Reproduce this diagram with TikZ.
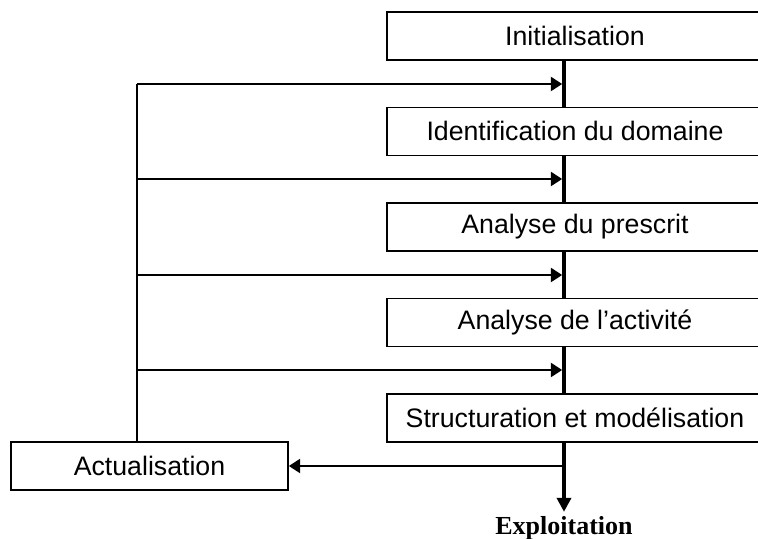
\documentclass[tikz,border=0pt]{standalone}
\usepackage{fontspec}
\setmainfont{Liberation Serif}
\setsansfont{Liberation Sans}
\usepackage{tikz}
\usetikzlibrary{arrows.meta,positioning,calc}
\tikzset{
  stage/.style={rectangle,draw=black,line width=1.2pt,fill=white,minimum width=9.4cm,
    minimum height=1.2cm,align=center,font=\fontsize{19}{22}\selectfont\sffamily},
  upd/.style={rectangle,draw=black,line width=1.2pt,fill=white,minimum width=6.925cm,
    minimum height=1.2cm,align=center,font=\fontsize{19}{22}\selectfont\sffamily},
  arr/.style={-{Triangle[length=8pt,width=10pt]},line width=1.3pt,color=black},
  spine/.style={line width=2.6pt,color=black},
  outlbl/.style={font=\fontsize{18.5}{21}\selectfont\rmfamily\bfseries}
}

\begin{document}
\begin{tikzpicture}
    \useasboundingbox (0,0) rectangle (18.95,13.475);

    % Stages
    \node[stage] (init) at (14.375,12.575) {Initialisation};
    \node[stage] (ident) at (14.375,10.19) {Identification du domaine};
    \node[stage] (presc) at (14.375,7.8) {Analyse du prescrit};
    \node[stage] (activ) at (14.375,5.41) {Analyse de l’activité};
    \node[stage] (model) at (14.375,3.02) {Structuration et modélisation};

    % Update loop
    \node[upd] (actu) at (3.7375,1.825) {Actualisation};
    \node[outlbl] (expl) at (14.1,0.26) {Exploitation};

    % Junctions on the spine
    \coordinate (j1) at (14.1,11.375);
    \coordinate (j2) at (14.1,9.0);
    \coordinate (j3) at (14.1,6.6);
    \coordinate (j4) at (14.1,4.225);
    \coordinate (j5) at (14.1,1.825);
    \coordinate (fb) at (3.425,11.375);

    % Spine
    \draw[spine] (init.south -| j1) -- (ident.north -| j1);
    \draw[spine] (ident.south -| j1) -- (presc.north -| j1);
    \draw[spine] (presc.south -| j1) -- (activ.north -| j1);
    \draw[spine] (activ.south -| j1) -- (model.north -| j1);
    \draw[spine,-{Triangle[length=10pt,width=10pt]}] (model.south -| j1) -- (expl.north -| j1);

    % Feedback
    \draw[arr] (j5) -- (actu.east);
    \draw[line width=1.3pt] (actu.north -| fb) -- (fb);
    \draw[arr,shorten >=1.3pt] (fb) -- (j1);
    \draw[arr,shorten >=1.3pt] (fb |- j2) -- (j2);
    \draw[arr,shorten >=1.3pt] (fb |- j3) -- (j3);
    \draw[arr,shorten >=1.3pt] (fb |- j4) -- (j4);
  \end{tikzpicture}
\end{document}
